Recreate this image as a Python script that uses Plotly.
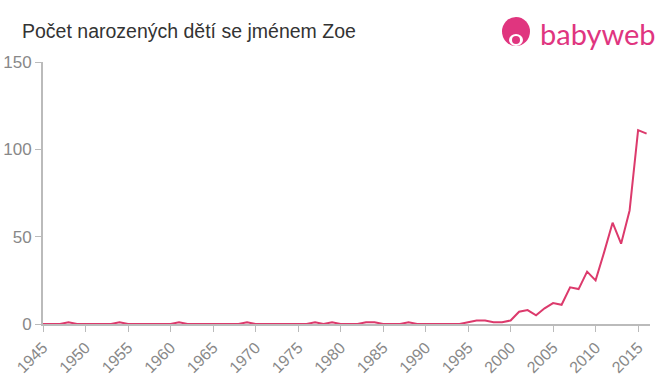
import plotly.graph_objects as go

years = list(range(1945, 2017))
counts = [0] * len(years)
values_by_year = {
    1948: 1, 1954: 1, 1961: 1, 1969: 1, 1977: 1, 1979: 1, 1983: 1, 1984: 1, 1988: 1,
    1995: 1, 1996: 2, 1997: 2, 1998: 1, 1999: 1, 2000: 2, 2001: 7, 2002: 8, 2003: 5,
    2004: 9, 2005: 12, 2006: 11, 2007: 21, 2008: 20, 2009: 30, 2010: 25, 2011: 41,
    2012: 58, 2013: 46, 2014: 65, 2015: 111, 2016: 109,
}
for i, y in enumerate(years):
    counts[i] = values_by_year.get(y, 0)

x_ticks = list(range(1945, 2016, 5))
y_ticks = [0, 50, 100, 150]

title_text = "Počet narozených dětí se jménem Zoe"
logo_text = "babyweb"

line_color = "#dc3a6c"
pink = "#e0357f"
axis_color = "#bbbbbb"
tick_font_color = "#888888"

ML, MR, MT, MB = 43, 10, 62, 51
W, H = 660, 375
pw = W - ML - MR
ph = H - MT - MB
def px_x(v):
    return (v - ML) / pw
def px_y(v):
    return (H - MB - v) / ph

fig = go.Figure()
fig.add_trace(go.Scatter(
    x=years, y=counts, mode="lines",
    line=dict(color=line_color, width=2),
    hoverinfo="x+y", showlegend=False,
))

fig.update_layout(
    width=W, height=H,
    margin=dict(l=ML, r=MR, t=MT, b=MB, autoexpand=False),
    paper_bgcolor="white", plot_bgcolor="white",
    font=dict(family="Liberation Sans, Arial, sans-serif"),
    xaxis=dict(
        range=[1945, 2016.4], tickmode="array", tickvals=x_ticks,
        ticktext=[str(t) for t in x_ticks], tickangle=-45, automargin=False,
        showgrid=False, zeroline=False, showline=True, linecolor=axis_color, linewidth=2,
        ticks="outside", tickcolor=axis_color, ticklen=6, tickwidth=1,
        tickfont=dict(size=16, color=tick_font_color),
    ),
    yaxis=dict(
        range=[0, 150], tickmode="array", tickvals=y_ticks, automargin=False,
        showgrid=False, zeroline=False, showline=True, linecolor=axis_color, linewidth=2,
        ticks="outside", tickcolor=axis_color, ticklen=6, tickwidth=1,
        tickfont=dict(size=17, color=tick_font_color),
    ),
    annotations=[
        dict(text=title_text, x=px_x(20), y=px_y(31), xref="paper", yref="paper",
             showarrow=False, xanchor="left", yanchor="middle",
             font=dict(size=19.5, color="#333333")),
        dict(text=logo_text, x=px_x(538), y=px_y(33), xref="paper", yref="paper",
             showarrow=False, xanchor="left", yanchor="middle",
             font=dict(size=29, color=pink, family="Lato, Liberation Sans, sans-serif")),
    ],
)

# logo icon
fig.add_shape(type="circle", xref="paper", yref="paper",
              x0=px_x(502), x1=px_x(530), y0=px_y(46), y1=px_y(17),
              fillcolor=pink, line=dict(width=0))
fig.add_shape(type="circle", xref="paper", yref="paper",
              x0=px_x(509), x1=px_x(523), y0=px_y(46), y1=px_y(34),
              fillcolor="white", line=dict(width=0))
fig.add_shape(type="circle", xref="paper", yref="paper",
              x0=px_x(512), x1=px_x(520), y0=px_y(44), y1=px_y(36),
              fillcolor=pink, line=dict(width=0))

fig.write_html("out.html")
